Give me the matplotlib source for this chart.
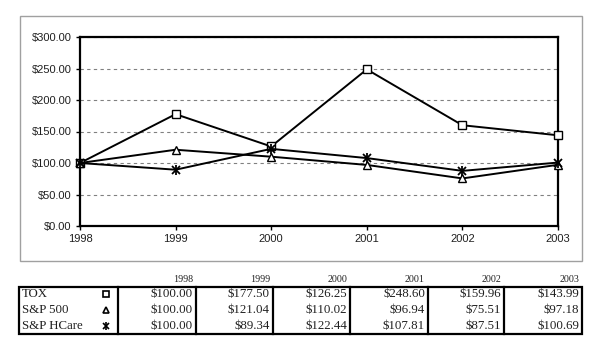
import matplotlib
matplotlib.use("Agg")
import matplotlib.pyplot as plt
from matplotlib.patches import Rectangle
from matplotlib.lines import Line2D

years = [1998, 1999, 2000, 2001, 2002, 2003]
series_names = ["TOX", "S&P 500", "S&P HCare"]
tox = [100.00, 177.50, 126.25, 248.60, 159.96, 143.99]
sp500 = [100.00, 121.04, 110.02, 96.94, 75.51, 97.18]
hcare = [100.00, 89.34, 122.44, 107.81, 87.51, 100.69]
yticks = [0, 50, 100, 150, 200, 250, 300]

W, H = 600, 356
fig = plt.figure(figsize=(W / 100, H / 100), dpi=100)

def fx(px):
    return px / W

def fy(py):
    return 1 - py / H

# outer gray frame
fig.patches.append(Rectangle((fx(20), fy(261)), fx(562), 245 / H, transform=fig.transFigure,
                             fill=False, edgecolor="#a0a0a0", linewidth=1.0))

ax = fig.add_axes([fx(80), fy(226), 478 / W, 189 / H])
ax.set_xlim(years[0], years[-1])
ax.set_ylim(0, 300)
for s in ax.spines.values():
    s.set_linewidth(1.6)
    s.set_color("black")

ax.yaxis.grid(True, linestyle=(0, (3, 3)), color="#808080", linewidth=0.8)
ax.set_axisbelow(True)
ax.set_yticks(yticks)
ax.set_yticklabels(["$%.2f" % v for v in yticks])
ax.set_xticks(years)
ax.set_xticklabels([str(y) for y in years])
ax.tick_params(axis="both", direction="out", length=3, width=1, labelsize=8,
               labelcolor="#202020", pad=3)
for lab in ax.get_xticklabels() + ax.get_yticklabels():
    lab.set_family("Liberation Sans")

lw = 1.4
ax.plot(years, tox, color="black", linewidth=lw, marker="s", markersize=5.5,
        markerfacecolor="white", markeredgecolor="black", markeredgewidth=1, clip_on=False, zorder=3)
ax.plot(years, sp500, color="black", linewidth=lw, marker="^", markersize=5.5,
        markerfacecolor="white", markeredgecolor="black", markeredgewidth=1, clip_on=False, zorder=3)
ax.plot(years, hcare, color="black", linewidth=lw, marker="x", markersize=5.5,
        markeredgewidth=1.3, clip_on=False, zorder=3)
ax.plot(years, hcare, linestyle="none", marker="|", markersize=6.5, color="black",
        markeredgewidth=1.3, clip_on=False, zorder=3)

# data table below the chart
col_edges = [19, 118, 196, 273, 350, 428, 504, 582]
tbl_top, tbl_bot = 286.5, 333.5
row_h = (tbl_bot - tbl_top) / 3
serif = "Liberation Serif"

fig.patches.append(Rectangle((fx(col_edges[0]), fy(tbl_bot)), fx(col_edges[-1] - col_edges[0]),
                             (tbl_bot - tbl_top) / H, transform=fig.transFigure,
                             fill=False, edgecolor="black", linewidth=1.6))
for xe in col_edges[1:-1]:
    fig.lines.append(Line2D([fx(xe), fx(xe)], [fy(tbl_top), fy(tbl_bot)],
                            transform=fig.transFigure, color="black", linewidth=1.6))

for i, y in enumerate(years):
    fig.text(fx(col_edges[i + 2] - 3), fy(280), str(y), ha="right", va="center",
             fontsize=7.2, family=serif, color="#202020")

rows = [tox, sp500, hcare]
markers = ["s", "^", "x"]
for r, (name, vals) in enumerate(zip(series_names, rows)):
    yc = tbl_top + row_h * (r + 0.5)
    fig.text(fx(22), fy(yc), name, ha="left", va="center", fontsize=9.3, family=serif, color="#202020")
    mk = dict(marker=markers[r], markersize=5, color="black", markerfacecolor="white",
              markeredgewidth=1.2, linestyle="none")
    fig.lines.append(Line2D([fx(106)], [fy(yc)], transform=fig.transFigure, **mk))
    if markers[r] == "x":
        fig.lines.append(Line2D([fx(106)], [fy(yc)], transform=fig.transFigure, marker="|",
                                markersize=5.5, color="black", markeredgewidth=1.2, linestyle="none"))
    for i, v in enumerate(vals):
        fig.text(fx(col_edges[i + 2] - 3), fy(yc), "$%.2f" % v, ha="right", va="center",
                 fontsize=9.3, family=serif, color="#202020")

fig.savefig("out.png", dpi=100)
